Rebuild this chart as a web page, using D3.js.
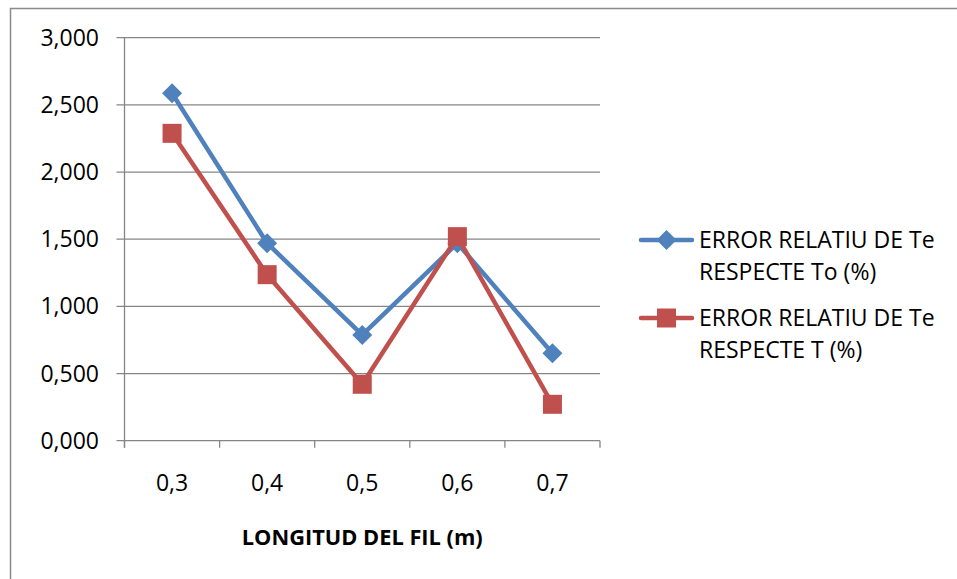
<!DOCTYPE html>
<html>
<head>
<meta charset="utf-8">
<script src="https://cdn.jsdelivr.net/npm/d3@7"></script>
<style>
  body { margin: 0; background: #fff; }
  text { font-family: 'Open Sans', 'Noto Sans', sans-serif; fill: #000; }
</style>
</head>
<body>
<svg id="chart" width="957" height="579"></svg>
<script>
// chart data
const categories = ['0,3', '0,4', '0,5', '0,6', '0,7'];
const seriesNames = ['ERROR RELATIU DE Te RESPECTE To (%)', 'ERROR RELATIU DE Te RESPECTE T (%)'];
const errTo = [2.586, 1.470, 0.787, 1.470, 0.651];
const errT = [2.288, 1.236, 0.420, 1.519, 0.271];
const yTicks = [0, 0.5, 1, 1.5, 2, 2.5, 3];
const xTitle = 'LONGITUD DEL FIL (m)';

const colors = ['#4F81BD', '#C0504D'];
const gridColor = '#868686';

const svg = d3.select('#chart');
const margin = { left: 124.5, right: 600, top: 37.7, bottom: 440.7 };

// outer frame (runs off the right and bottom edge)
svg.append('rect')
  .attr('x', 10.5).attr('y', 8.5)
  .attr('width', 1000).attr('height', 1000)
  .attr('fill', 'none')
  .attr('stroke', '#8a8a8a')
  .attr('stroke-width', 1.5);

const x = d3.scaleBand().domain(categories).range([margin.left, margin.right]);
const y = d3.scaleLinear().domain([0, 3]).range([margin.bottom, margin.top]);
const fmt = v => d3.format('.3f')(v).replace('.', ',');

// gridlines
svg.append('g')
  .selectAll('line')
  .data(yTicks)
  .join('line')
  .attr('x1', margin.left - 8).attr('x2', margin.right)
  .attr('y1', d => y(d)).attr('y2', d => y(d))
  .attr('stroke', gridColor).attr('stroke-width', 1.3);

// y axis line
svg.append('line')
  .attr('x1', margin.left).attr('x2', margin.left)
  .attr('y1', margin.top).attr('y2', margin.bottom + 7)
  .attr('stroke', gridColor).attr('stroke-width', 1.3);

// x ticks at band edges
const edges = categories.map(c => x(c)).concat([margin.right]);
svg.append('g')
  .selectAll('line')
  .data(edges)
  .join('line')
  .attr('x1', d => d).attr('x2', d => d)
  .attr('y1', margin.bottom).attr('y2', margin.bottom + 7)
  .attr('stroke', gridColor).attr('stroke-width', 1.3);

// y tick labels
svg.append('g')
  .selectAll('text')
  .data(yTicks)
  .join('text')
  .attr('x', 99)
  .attr('y', d => y(d) + 8)
  .attr('text-anchor', 'end')
  .style('font-size', '23px')
  .text(d => fmt(d));

// x tick labels
svg.append('g')
  .selectAll('text')
  .data(categories)
  .join('text')
  .attr('x', d => x(d) + x.bandwidth() / 2)
  .attr('y', 491)
  .attr('text-anchor', 'middle')
  .style('font-size', '23px')
  .text(d => d);

// x title
svg.append('text')
  .attr('x', (margin.left + margin.right) / 2)
  .attr('y', 545)
  .attr('text-anchor', 'middle')
  .style('font-size', '21.8px')
  .style('font-weight', 'bold')
  .text(xTitle);

const cx = (d, i) => x(categories[i]) + x.bandwidth() / 2;
const line = d3.line().x(cx).y(d => y(d));

const diamond = (s) => `M0,${-s}L${s},0L0,${s}L${-s},0Z`;
const drawMarker = (g, k, px, py) => {
  if (k === 0) {
    g.append('path')
      .attr('d', diamond(10))
      .attr('transform', `translate(${px},${py})`)
      .attr('fill', colors[0]);
  } else {
    g.append('rect')
      .attr('x', px - 9.5).attr('y', py - 9.5)
      .attr('width', 19).attr('height', 19)
      .attr('fill', colors[1]);
  }
};

[errTo, errT].forEach((vals, k) => {
  const g = svg.append('g');
  g.append('path')
    .datum(vals)
    .attr('d', line)
    .attr('fill', 'none')
    .attr('stroke', colors[k])
    .attr('stroke-width', 4.5)
    .attr('stroke-linejoin', 'round');
  vals.forEach((v, i) => drawMarker(g, k, cx(v, i), y(v)));
});

// legend
const legendY = [240, 318];
seriesNames.forEach((name, k) => {
  const g = svg.append('g');
  const ly = legendY[k];
  g.append('line')
    .attr('x1', 641).attr('x2', 692)
    .attr('y1', ly).attr('y2', ly)
    .attr('stroke', colors[k]).attr('stroke-width', 4.5)
    .attr('stroke-linecap', 'round');
  drawMarker(g, k, 666.5, ly);
  const parts = name.split(' RESPECTE ');
  const t = g.append('text')
    .attr('x', 699)
    .attr('y', ly + 8)
    .style('font-size', '23px');
  t.append('tspan').attr('x', 699).text(parts[0]);
  t.append('tspan').attr('x', 699).attr('dy', 32).text('RESPECTE ' + parts[1]);
});
</script>
</body>
</html>
